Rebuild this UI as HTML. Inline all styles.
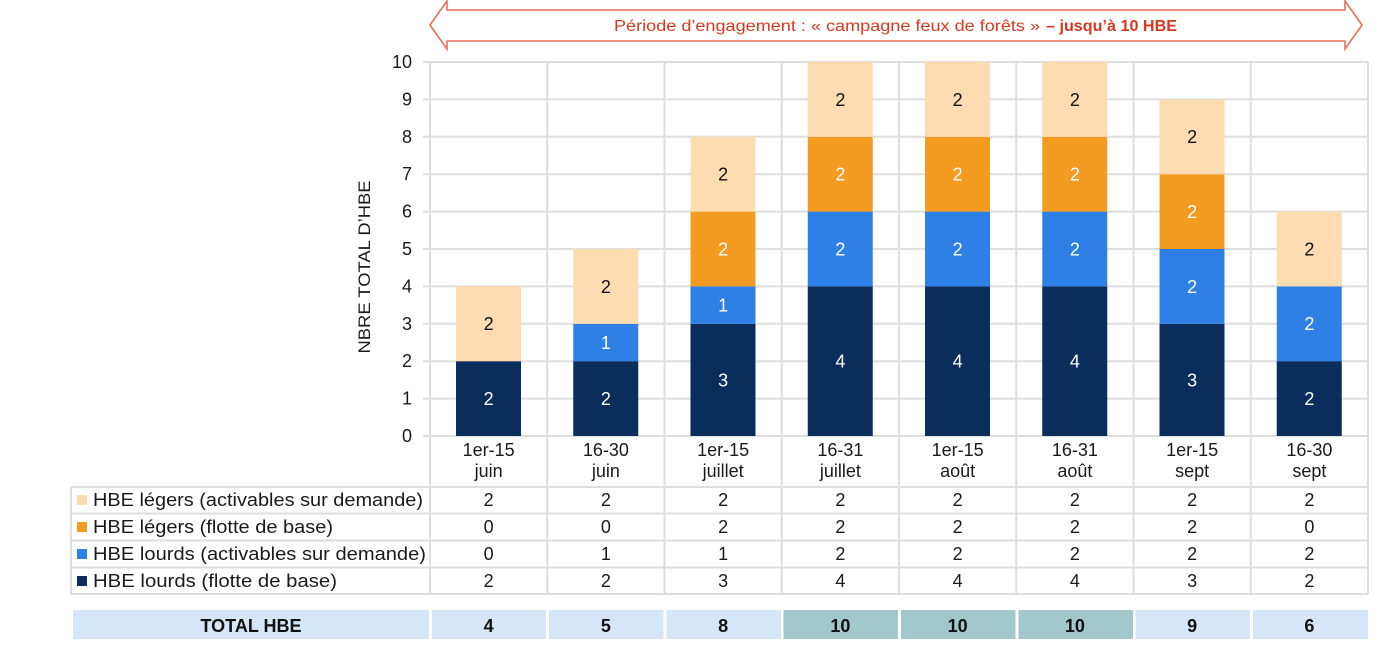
<!DOCTYPE html>
<html><head><meta charset="utf-8"><style>
html,body{margin:0;padding:0;background:#fff;}
svg{display:block;}
text{font-family:"Liberation Sans",sans-serif;}
</style></head><body>
<svg width="1393" height="648" viewBox="0 0 1393 648" xmlns="http://www.w3.org/2000/svg">
<rect x="0" y="0" width="1393" height="648" fill="#fff"/>
<!-- arrow -->
<polygon points="430,25 447,1 447,10 1345,10 1345,1 1362,25 1345,49 1345,41 447,41 447,49" fill="#fff" stroke="#ec6f58" stroke-width="1.6"/>
<text x="614" y="31" font-size="16" fill="#d9381e" textLength="426" lengthAdjust="spacingAndGlyphs">Période d’engagement : « campagne feux de forêts »</text>
<text x="1046" y="31" font-size="16" font-weight="bold" fill="#d9381e" textLength="131" lengthAdjust="spacingAndGlyphs">– jusqu’à 10 HBE</text>

<!-- gridlines -->
<g stroke="#dedede" stroke-width="2">
<line x1="423" y1="62" x2="1368" y2="62"/>
<line x1="423" y1="99.4" x2="1368" y2="99.4"/>
<line x1="423" y1="136.8" x2="1368" y2="136.8"/>
<line x1="423" y1="174.2" x2="1368" y2="174.2"/>
<line x1="423" y1="211.6" x2="1368" y2="211.6"/>
<line x1="423" y1="249" x2="1368" y2="249"/>
<line x1="423" y1="286.4" x2="1368" y2="286.4"/>
<line x1="423" y1="323.8" x2="1368" y2="323.8"/>
<line x1="423" y1="361.2" x2="1368" y2="361.2"/>
<line x1="423" y1="398.6" x2="1368" y2="398.6"/>
<line x1="423" y1="436" x2="1368" y2="436"/>
<line x1="430" y1="62" x2="430" y2="594"/>
<line x1="547.25" y1="62" x2="547.25" y2="594"/>
<line x1="664.5" y1="62" x2="664.5" y2="594"/>
<line x1="781.75" y1="62" x2="781.75" y2="594"/>
<line x1="899" y1="62" x2="899" y2="594"/>
<line x1="1016.25" y1="62" x2="1016.25" y2="594"/>
<line x1="1133.5" y1="62" x2="1133.5" y2="594"/>
<line x1="1250.75" y1="62" x2="1250.75" y2="594"/>
<line x1="1368" y1="62" x2="1368" y2="594"/>
<line x1="71" y1="487" x2="1368" y2="487"/>
<line x1="71" y1="513.5" x2="1368" y2="513.5"/>
<line x1="71" y1="540.5" x2="1368" y2="540.5"/>
<line x1="71" y1="567.5" x2="1368" y2="567.5"/>
<line x1="71" y1="594" x2="1368" y2="594"/>
<line x1="71" y1="487" x2="71" y2="594"/>
</g>

<!-- y ticks -->
<g font-size="18" fill="#1a1a1a" text-anchor="end">
<text x="412" y="68">10</text>
<text x="412" y="105.4">9</text>
<text x="412" y="142.8">8</text>
<text x="412" y="180.2">7</text>
<text x="412" y="217.6">6</text>
<text x="412" y="255">5</text>
<text x="412" y="292.4">4</text>
<text x="412" y="329.8">3</text>
<text x="412" y="367.2">2</text>
<text x="412" y="404.6">1</text>
<text x="412" y="442">0</text>
</g>
<text transform="translate(370,267) rotate(-90)" text-anchor="middle" font-size="17" fill="#1a1a1a" textLength="173" lengthAdjust="spacingAndGlyphs">NBRE TOTAL D’HBE</text>

<!-- bars -->
<g>
<!-- col1 -->
<rect x="456" y="361.2" width="65" height="74.8" fill="#0b2d5b"/>
<rect x="456" y="286.4" width="65" height="74.8" fill="#fcdcb0"/>
<!-- col2 -->
<rect x="573.25" y="361.2" width="65" height="74.8" fill="#0b2d5b"/>
<rect x="573.25" y="323.8" width="65" height="37.4" fill="#2f80e6"/>
<rect x="573.25" y="249" width="65" height="74.8" fill="#fcdcb0"/>
<!-- col3 -->
<rect x="690.5" y="323.8" width="65" height="112.2" fill="#0b2d5b"/>
<rect x="690.5" y="286.4" width="65" height="37.4" fill="#2f80e6"/>
<rect x="690.5" y="211.6" width="65" height="74.8" fill="#f39c21"/>
<rect x="690.5" y="136.8" width="65" height="74.8" fill="#fcdcb0"/>
<!-- col4 -->
<rect x="807.75" y="286.4" width="65" height="149.6" fill="#0b2d5b"/>
<rect x="807.75" y="211.6" width="65" height="74.8" fill="#2f80e6"/>
<rect x="807.75" y="136.8" width="65" height="74.8" fill="#f39c21"/>
<rect x="807.75" y="62" width="65" height="74.8" fill="#fcdcb0"/>
<!-- col5 -->
<rect x="925" y="286.4" width="65" height="149.6" fill="#0b2d5b"/>
<rect x="925" y="211.6" width="65" height="74.8" fill="#2f80e6"/>
<rect x="925" y="136.8" width="65" height="74.8" fill="#f39c21"/>
<rect x="925" y="62" width="65" height="74.8" fill="#fcdcb0"/>
<!-- col6 -->
<rect x="1042.25" y="286.4" width="65" height="149.6" fill="#0b2d5b"/>
<rect x="1042.25" y="211.6" width="65" height="74.8" fill="#2f80e6"/>
<rect x="1042.25" y="136.8" width="65" height="74.8" fill="#f39c21"/>
<rect x="1042.25" y="62" width="65" height="74.8" fill="#fcdcb0"/>
<!-- col7 -->
<rect x="1159.5" y="323.8" width="65" height="112.2" fill="#0b2d5b"/>
<rect x="1159.5" y="249" width="65" height="74.8" fill="#2f80e6"/>
<rect x="1159.5" y="174.2" width="65" height="74.8" fill="#f39c21"/>
<rect x="1159.5" y="99.4" width="65" height="74.8" fill="#fcdcb0"/>
<!-- col8 -->
<rect x="1276.75" y="361.2" width="65" height="74.8" fill="#0b2d5b"/>
<rect x="1276.75" y="286.4" width="65" height="74.8" fill="#2f80e6"/>
<rect x="1276.75" y="211.6" width="65" height="74.8" fill="#fcdcb0"/>
</g>

<!-- bar labels -->
<g font-size="18" text-anchor="middle">
<text x="488.6" y="405" fill="#fff">2</text>
<text x="488.6" y="330.2" fill="#111">2</text>
<text x="605.9" y="405" fill="#fff">2</text>
<text x="605.9" y="348.9" fill="#fff">1</text>
<text x="605.9" y="292.9" fill="#111">2</text>
<text x="723.1" y="386.3" fill="#fff">3</text>
<text x="723.1" y="311.5" fill="#fff">1</text>
<text x="723.1" y="255.4" fill="#fff">2</text>
<text x="723.1" y="180.6" fill="#111">2</text>
<text x="840.4" y="367.6" fill="#fff">4</text>
<text x="840.4" y="255.4" fill="#fff">2</text>
<text x="840.4" y="180.6" fill="#fff">2</text>
<text x="840.4" y="105.8" fill="#111">2</text>
<text x="957.6" y="367.6" fill="#fff">4</text>
<text x="957.6" y="255.4" fill="#fff">2</text>
<text x="957.6" y="180.6" fill="#fff">2</text>
<text x="957.6" y="105.8" fill="#111">2</text>
<text x="1074.9" y="367.6" fill="#fff">4</text>
<text x="1074.9" y="255.4" fill="#fff">2</text>
<text x="1074.9" y="180.6" fill="#fff">2</text>
<text x="1074.9" y="105.8" fill="#111">2</text>
<text x="1192.1" y="386.3" fill="#fff">3</text>
<text x="1192.1" y="292.9" fill="#fff">2</text>
<text x="1192.1" y="218" fill="#fff">2</text>
<text x="1192.1" y="143.2" fill="#111">2</text>
<text x="1309.4" y="405" fill="#fff">2</text>
<text x="1309.4" y="330.2" fill="#fff">2</text>
<text x="1309.4" y="255.4" fill="#111">2</text>
</g>

<!-- category labels -->
<g font-size="18" fill="#1a1a1a" text-anchor="middle">
<text x="488.6" y="456">1er-15</text><text x="488.6" y="477">juin</text>
<text x="605.9" y="456">16-30</text><text x="605.9" y="477">juin</text>
<text x="723.1" y="456">1er-15</text><text x="723.1" y="477">juillet</text>
<text x="840.4" y="456">16-31</text><text x="840.4" y="477">juillet</text>
<text x="957.6" y="456">1er-15</text><text x="957.6" y="477">août</text>
<text x="1074.9" y="456">16-31</text><text x="1074.9" y="477">août</text>
<text x="1192.1" y="456">1er-15</text><text x="1192.1" y="477">sept</text>
<text x="1309.4" y="456">16-30</text><text x="1309.4" y="477">sept</text>
</g>

<!-- legend rows -->
<rect x="77" y="495" width="10" height="10" fill="#fcdcb0"/>
<rect x="77" y="522" width="10" height="10" fill="#f39c21"/>
<rect x="77" y="549" width="10" height="10" fill="#2f80e6"/>
<rect x="77" y="576" width="10" height="10" fill="#0b2d5b"/>
<g font-size="18" fill="#1a1a1a">
<text x="93" y="506" textLength="330" lengthAdjust="spacingAndGlyphs">HBE légers (activables sur demande)</text>
<text x="93" y="533" textLength="240" lengthAdjust="spacingAndGlyphs">HBE légers (flotte de base)</text>
<text x="93" y="560" textLength="333" lengthAdjust="spacingAndGlyphs">HBE lourds (activables sur demande)</text>
<text x="93" y="587" textLength="244" lengthAdjust="spacingAndGlyphs">HBE lourds (flotte de base)</text>
</g>
<g font-size="18" fill="#1a1a1a" text-anchor="middle">
<text x="488.6" y="506">2</text><text x="605.9" y="506">2</text><text x="723.1" y="506">2</text><text x="840.4" y="506">2</text><text x="957.6" y="506">2</text><text x="1074.9" y="506">2</text><text x="1192.1" y="506">2</text><text x="1309.4" y="506">2</text>
<text x="488.6" y="533">0</text><text x="605.9" y="533">0</text><text x="723.1" y="533">2</text><text x="840.4" y="533">2</text><text x="957.6" y="533">2</text><text x="1074.9" y="533">2</text><text x="1192.1" y="533">2</text><text x="1309.4" y="533">0</text>
<text x="488.6" y="560">0</text><text x="605.9" y="560">1</text><text x="723.1" y="560">1</text><text x="840.4" y="560">2</text><text x="957.6" y="560">2</text><text x="1074.9" y="560">2</text><text x="1192.1" y="560">2</text><text x="1309.4" y="560">2</text>
<text x="488.6" y="587">2</text><text x="605.9" y="587">2</text><text x="723.1" y="587">3</text><text x="840.4" y="587">4</text><text x="957.6" y="587">4</text><text x="1074.9" y="587">4</text><text x="1192.1" y="587">3</text><text x="1309.4" y="587">2</text>
</g>

<!-- total row -->
<rect x="73" y="610" width="356" height="29" fill="#d6e6f9"/>
<rect x="432" y="610" width="114" height="29" fill="#d6e6f9"/>
<rect x="549" y="610" width="114.5" height="29" fill="#d6e6f9"/>
<rect x="666.5" y="610" width="114.5" height="29" fill="#d6e6f9"/>
<rect x="783.5" y="610" width="114.5" height="29" fill="#a2c8cb"/>
<rect x="901" y="610" width="114.5" height="29" fill="#a2c8cb"/>
<rect x="1018.5" y="610" width="114.5" height="29" fill="#a2c8cb"/>
<rect x="1135.5" y="610" width="114.5" height="29" fill="#d6e6f9"/>
<rect x="1253" y="610" width="115" height="29" fill="#d6e6f9"/>
<g font-size="18" font-weight="bold" fill="#111" text-anchor="middle">
<text x="251" y="632">TOTAL HBE</text>
<text x="488.6" y="632">4</text>
<text x="605.9" y="632">5</text>
<text x="723.1" y="632">8</text>
<text x="840.4" y="632">10</text>
<text x="957.6" y="632">10</text>
<text x="1074.9" y="632">10</text>
<text x="1192.1" y="632">9</text>
<text x="1309.4" y="632">6</text>
</g>
</svg>
</body></html>
